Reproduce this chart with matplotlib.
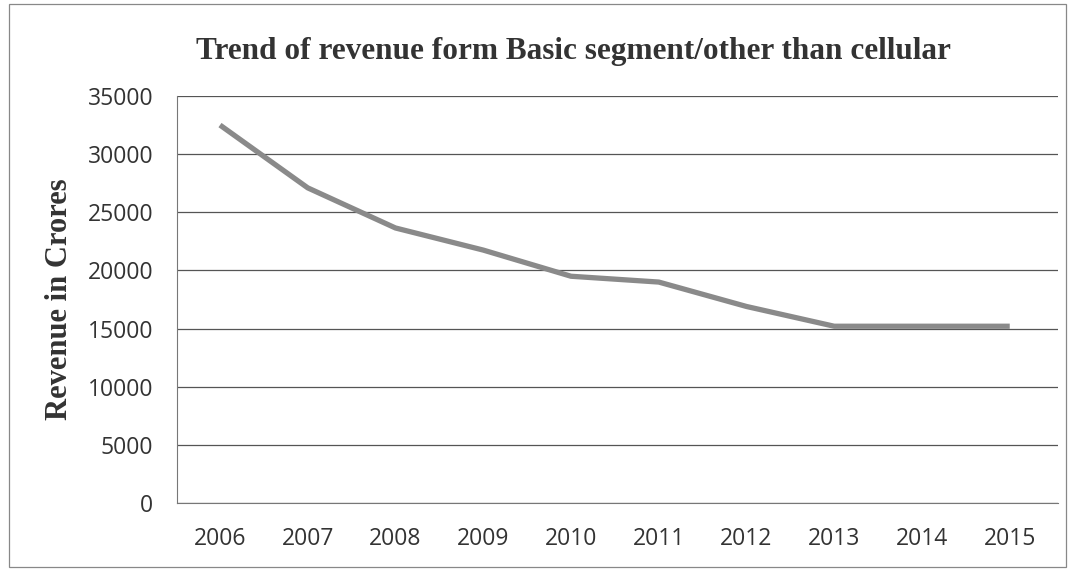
import matplotlib
matplotlib.use("Agg")
import matplotlib.pyplot as plt
from matplotlib.patches import Rectangle

years = ["2006", "2007", "2008", "2009", "2010", "2011", "2012", "2013", "2014", "2015"]
revenue = [32500, 27100, 23650, 21750, 19500, 19000, 16900, 15200, 15200, 15200]
yticks = [0, 5000, 10000, 15000, 20000, 25000, 30000, 35000]

fig = plt.figure(figsize=(10.71, 5.72), dpi=100)
ax = fig.add_axes([177/1071, 1 - 503/572, (1058-177)/1071, (503-96)/572])

x = list(range(len(years)))
ax.plot(x, revenue, color="#8a8a8a", lw=3.8, solid_capstyle="butt", zorder=3)

ax.set_xlim(-0.49, len(years) - 0.45)
ax.set_ylim(0, 35000)
ax.set_yticks(yticks)
ax.set_yticklabels([str(v) for v in yticks], fontsize=16.5, family="Open Sans", color="#333333")
ax.set_xticks(x)
ax.set_xticklabels(years, fontsize=16.5, family="Open Sans", color="#333333")
ax.tick_params(axis="both", length=0)
ax.tick_params(axis="y", pad=17)
ax.tick_params(axis="x", pad=17)
ax.yaxis.grid(True, color="#555555", lw=0.9)
ax.set_axisbelow(True)
for s in ["top", "right"]:
    ax.spines[s].set_visible(False)
ax.spines["left"].set_color("#777777")
ax.spines["left"].set_linewidth(0.8)
ax.spines["bottom"].set_color("#777777")
ax.spines["bottom"].set_linewidth(0.8)

ax.set_ylabel("Revenue in Crores", fontsize=22, family="Liberation Serif",
              fontweight="bold", color="#333333", labelpad=10)

fig.text(573/1071, 1 - 52/572, "Trend of revenue form Basic segment/other than cellular",
         ha="center", va="center", fontsize=22.5, family="Liberation Serif",
         fontweight="bold", color="#333333")

fig.patches.append(Rectangle((9/1071, 1 - 567/572), (1066-9)/1071, (567-4)/572,
                             transform=fig.transFigure, fill=False,
                             edgecolor="#888888", lw=0.9))

fig.savefig("out.png", dpi=100)
